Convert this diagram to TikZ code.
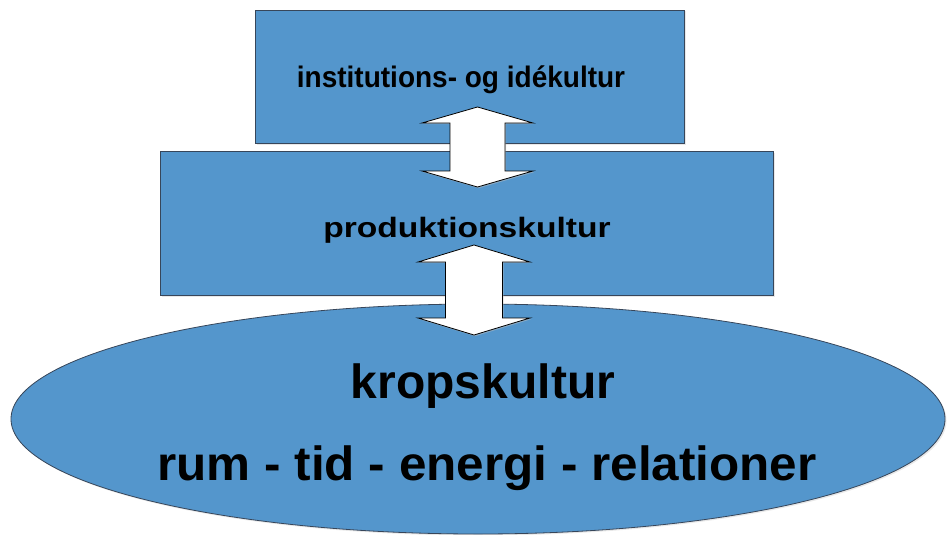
\documentclass[tikz,border=0pt]{standalone}
\usepackage{fontspec}
\setmainfont{Liberation Sans}
\usetikzlibrary{shapes.geometric,calc,shadows}
\definecolor{boxblue}{RGB}{84,150,204}
\definecolor{edgecol}{RGB}{55,70,90}
\newcommand\dblarr[5]{%
  \draw[arrbody] (#1) -- ($(#1)+(#3,#5)$) -- ($(#1)+(#4,#5)$) -- ($(#2)+(#4,-#5)$)
    -- ($(#2)+(#3,-#5)$) -- (#2) -- ($(#2)+(-#3,-#5)$) -- ($(#2)+(-#4,-#5)$)
    -- ($(#1)+(-#4,#5)$) -- ($(#1)+(-#3,#5)$) -- cycle;}
\begin{document}
\begin{tikzpicture}[x=1pt,y=-1pt,
  layerbox/.style={draw=edgecol, line width=0.8pt, fill=boxblue, inner sep=0pt,
    drop shadow={shadow xshift=1.5pt, shadow yshift=-1.5pt, fill=black!18}},
  arrbody/.style={draw=black, line width=0.8pt, fill=white, line join=miter,
    drop shadow={shadow xshift=1.2pt, shadow yshift=-1.2pt, fill=black!25}},
  lbl/.style={inner sep=0pt, text=black, anchor=base}]
\useasboundingbox (0,0) rectangle (950,535);
\node[layerbox, rectangle, minimum width=429pt, minimum height=133pt] (top) at (469.5,76.5) {};
\node[layerbox, rectangle, minimum width=613pt, minimum height=144pt] (mid) at (466.5,223) {};
\node[layerbox, ellipse, minimum width=934pt, minimum height=230pt] (body) at (478,419) {};
\node[lbl, font=\bfseries\fontsize{28}{32}\selectfont] (toptxt) at (461,88) {\scalebox{1}[1.06]{institutions- og idékultur}};
\node[lbl, font=\bfseries\fontsize{28}{32}\selectfont] (midtxt) at (467,237) {\scalebox{1.2}[1]{produktionskultur}};
\coordinate (a1) at (477.5,107);
\coordinate (a2) at (477.5,187);
\coordinate (b1) at (474,245);
\coordinate (b2) at (474,335);
\dblarr{a1}{a2}{55.5}{27.5}{16}
\dblarr{b1}{b2}{56}{28.5}{17}
\node[lbl, font=\bfseries\fontsize{48}{56}\selectfont] (k1) at (483,398) {kropskultur};
\node[lbl, font=\bfseries\fontsize{48}{56}\selectfont] (k2) at (487,480) {\scalebox{1.03}[1]{rum - tid - energi - relationer}};
\end{tikzpicture}
\end{document}
